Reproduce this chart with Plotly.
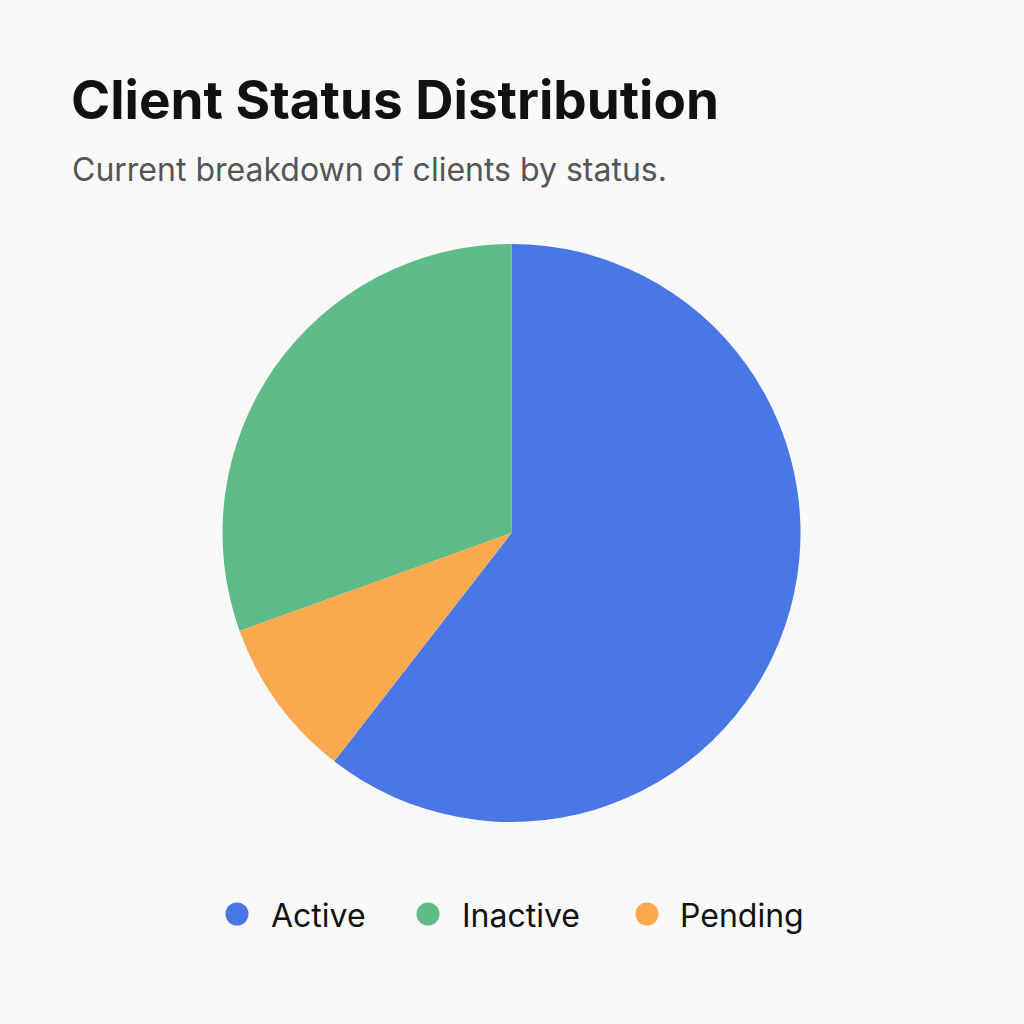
import plotly.graph_objects as go

statuses = ["Active", "Inactive", "Pending"]
clients = [121, 61, 18]
colors = ["#4A77E6", "#5FBB87", "#FBA94F"]

title_text = "Client Status Distribution"
subtitle_text = "Current breakdown of clients by status."

# legend layout (pixel positions of the custom legend entries)
legend_marker_x = [237, 428, 647]
legend_text_x = [269, 460, 678]
legend_y = 914

W = H = 1024

fig = go.Figure()
fig.add_trace(go.Pie(
    labels=statuses,
    values=clients,
    sort=False,
    direction="counterclockwise",
    rotation=0,
    marker=dict(colors=colors, line=dict(width=0)),
    textinfo="none",
    hoverinfo="label+value+percent",
    showlegend=False,
    domain=dict(x=[221/W, 802/W], y=[1 - 822/H, 1 - 244/H]),
))

shapes = []
annotations = [
    dict(text="<b>" + title_text + "</b>", x=69/W, y=1 - 100/H,
         xref="paper", yref="paper", xanchor="left", yanchor="middle",
         showarrow=False,
         font=dict(family="Inter, Roboto, sans-serif", size=53, color="#111111")),
    dict(text=subtitle_text, x=70/W, y=1 - 169/H,
         xref="paper", yref="paper", xanchor="left", yanchor="middle",
         showarrow=False,
         font=dict(family="Inter, Roboto, sans-serif", size=32, color="#555555")),
]

r = 11.5
for name, col, mx, tx in zip(statuses, colors, legend_marker_x, legend_text_x):
    shapes.append(dict(
        type="circle", xref="paper", yref="paper",
        x0=(mx - r)/W, x1=(mx + r)/W, y0=1 - (legend_y + r)/H, y1=1 - (legend_y - r)/H,
        fillcolor=col, line=dict(width=0),
    ))
    annotations.append(dict(
        text=name, x=tx/W, y=1 - (legend_y + 1)/H, xref="paper", yref="paper",
        xanchor="left", yanchor="middle", showarrow=False,
        font=dict(family="Inter, Roboto, sans-serif", size=32, color="#111111"),
    ))

fig.update_layout(
    width=W, height=H,
    margin=dict(l=0, r=0, t=0, b=0),
    paper_bgcolor="#F9F9F9",
    plot_bgcolor="#F9F9F9",
    showlegend=False,
    shapes=shapes,
    annotations=annotations,
)

fig.write_html("out.html")
